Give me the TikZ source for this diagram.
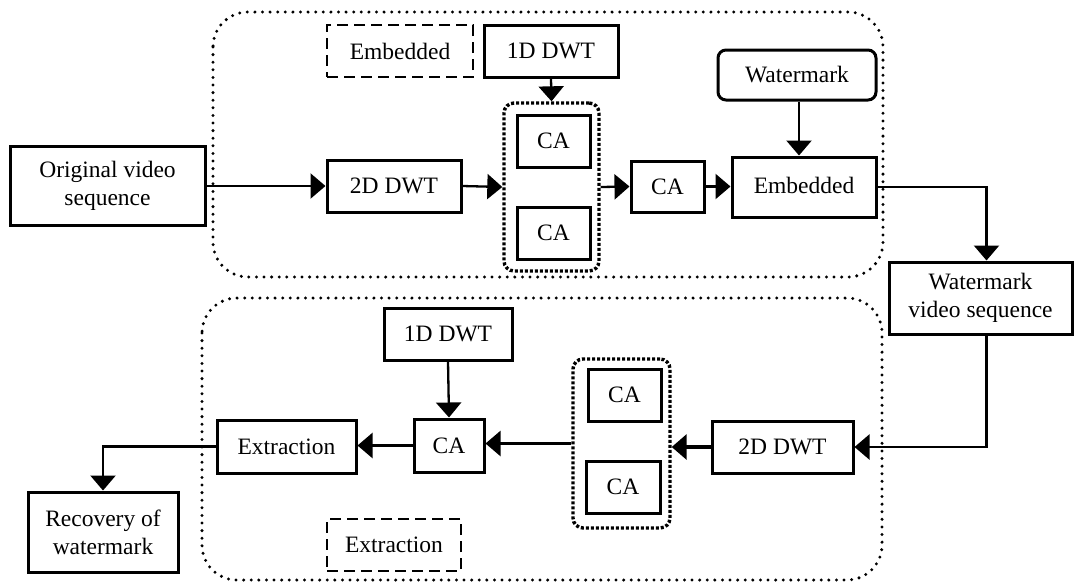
\documentclass[tikz,border=0pt]{standalone}
\usepackage{fontspec}
\setmainfont{Liberation Serif}
\usetikzlibrary{arrows.meta,positioning,calc}

\tikzset{
  every node/.style={font=\fontsize{23.5}{28}\selectfont, align=center, inner sep=0pt},
  box/.style={draw, line width=3pt, rectangle},
  roundbox/.style={draw, line width=3pt, rectangle, rounded corners=8pt},
  dashbox/.style={draw, line width=2.8pt, dash pattern=on 11pt off 6pt},
  groupbox/.style={draw, line width=3.4pt, dash pattern=on 3pt off 2pt, rounded corners=10pt},
  stagebox/.style={draw, line width=3.3pt, dash pattern=on 0pt off 7.6pt, line cap=round, rounded corners=35pt},
  arr/.style={line width=2.3pt, -{Triangle[length=15pt,width=25pt]}},
  thickarr/.style={line width=3.4pt, -{Triangle[length=15pt,width=25pt]}}
}

\begin{document}
\begin{tikzpicture}[x=1pt,y=-1pt]
\useasboundingbox (0,0) rectangle (1075,582);

% embedding stage
\draw[stagebox] (213,12) rectangle (883,277);
% extraction stage
\draw[stagebox] (202,298) rectangle (882,580);

% ---- embedding side ----
\node[box, minimum width=195pt, minimum height=79pt] (orig) at (107.5,186) {Original video\\sequence};
\node[box, minimum width=134pt, minimum height=52pt] (dwt2a) at (394,186) {2D DWT};
\node[dashbox, minimum width=146pt, minimum height=52pt] (embtag) at (400,51) {Embedded};
\node[box, minimum width=134pt, minimum height=52pt] (dwt1a) at (551,51) {1D DWT};
\node[groupbox, minimum width=95pt, minimum height=168pt] (grpA) at (551.5,187) {};
\node[box, minimum width=73pt, minimum height=52pt] (caA1) at (553.5,141) {CA};
\node[box, minimum width=73pt, minimum height=52pt] (caA2) at (553.5,233) {CA};
\node[box, minimum width=73pt, minimum height=51pt] (caA3) at (667.5,186.5) {CA};
\node[box, minimum width=144pt, minimum height=60pt] (embed) at (804,187) {\raisebox{4pt}{Embedded}};
\node[roundbox, minimum width=158pt, minimum height=50pt] (wm) at (797,75) {Watermark};
\node[box, minimum width=183pt, minimum height=72pt] (wvs) at (980.5,298) {Watermark\\video sequence};

% ---- extraction side ----
\node[box, minimum width=128pt, minimum height=52pt] (dwt1b) at (448,334) {1D DWT};
\node[box, minimum width=70pt, minimum height=53pt] (caB) at (449,445.5) {CA};
\node[box, minimum width=139pt, minimum height=53pt] (extr) at (286.5,446.5) {Extraction};
\node[box, minimum width=150pt, minimum height=80pt] (rec) at (103,532) {Recovery of\\watermark};
\node[dashbox, minimum width=134pt, minimum height=52pt] (extag) at (394,545) {Extraction};
\node[groupbox, minimum width=97pt, minimum height=169pt] (grpB) at (621.5,443.5) {};
\node[box, minimum width=73pt, minimum height=52pt] (caB1) at (624.5,395) {CA};
\node[box, minimum width=74pt, minimum height=52pt] (caB2) at (623,487) {CA};
\node[box, minimum width=141pt, minimum height=52pt] (dwt2b) at (782.5,447) {2D DWT};

% ---- connectors, embedding ----
\draw[arr] (orig.east) -- (dwt2a.west);
\draw[arr] (dwt2a.east) -- (grpA.west);
\draw[arr] (dwt1a.south) -- (grpA.north);
\draw[arr] (grpA.east) -- (caA3.west);
\draw[arr] (caA3.east) -- (caA3.east -| embed.west);
\draw[arr] ([xshift=2pt]wm.south) -- ([xshift=2pt]wm.south |- embed.north);
\draw[arr] (embed.east) -| ([xshift=6pt]wvs.north);

% ---- connectors, extraction ----
\draw[arr] ([xshift=6pt]wvs.south) |- (dwt2b.east);
\draw[thickarr] (dwt2b.west) -- (dwt2b.west -| grpB.east);
\draw[arr] (grpB.west) -- (grpB.west -| caB.east);
\draw[arr] (dwt1b.south) -- (caB.north);
\draw[arr] (caB.west) -- (caB.west -| extr.east);
\draw[arr] (extr.west) -| (rec.north);
\end{tikzpicture}
\end{document}
